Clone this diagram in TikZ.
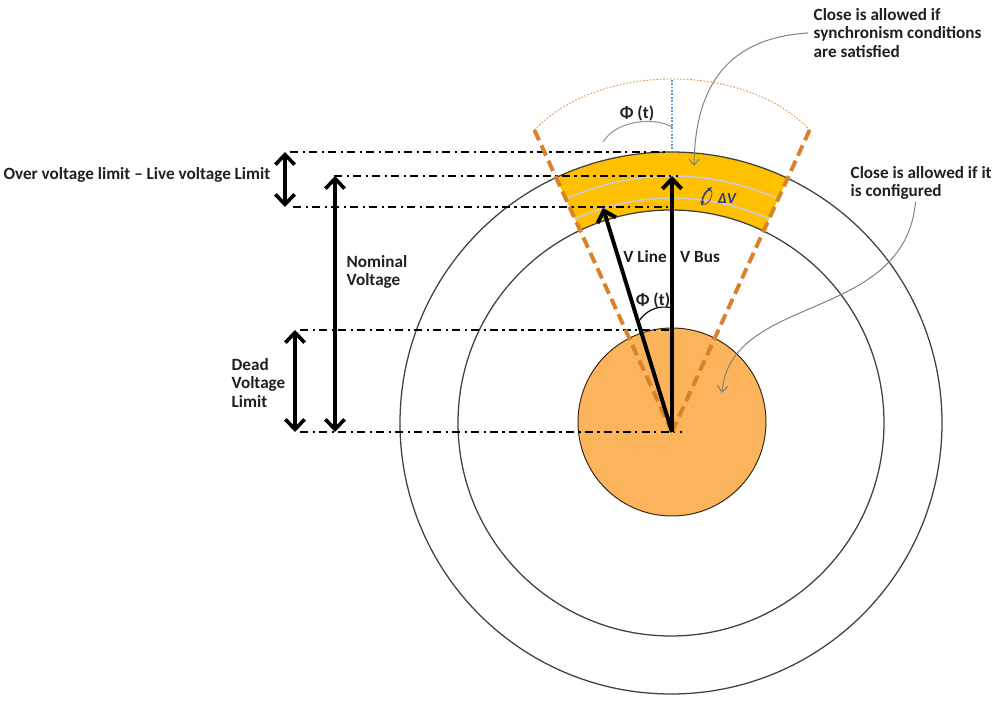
\documentclass[tikz,border=0pt]{standalone}
\usepackage{fontspec}
\setmainfont{Carlito}
\usepackage{tikz}
\usetikzlibrary{positioning,arrows.meta,calc}
\definecolor{ring}{HTML}{404040}
\definecolor{gold}{HTML}{FFC000}
\definecolor{peach}{HTML}{FBB45C}
\definecolor{rust}{HTML}{D9822B}
\definecolor{sky}{HTML}{5B9BD5}
\definecolor{navy}{HTML}{2E3B82}
\definecolor{ink}{HTML}{231F20}
\tikzset{
  txt/.style   ={font=\fontsize{12.2}{13.4}\selectfont\bfseries, text=ink, align=left, inner sep=1pt},
  ringline/.style={draw=ring, line width=0.9pt},
  level/.style ={line width=2pt, dash pattern=on 6pt off 3pt on 1.5pt off 3pt},
  dimarr/.style={{Straight Barb[length=2.5mm,width=4.8mm]}-{Straight Barb[length=2.5mm,width=4.8mm]}, line width=2.6pt},
  vec/.style   ={-{Straight Barb[length=2.5mm,width=4.8mm]}, line width=2.8pt},
  sector/.style={rust, line width=2.8pt, dash pattern=on 8pt off 4pt},
  note/.style  ={-{Straight Barb[length=1.6mm,width=2.6mm]}, gray, line width=0.7pt},
  guide/.style ={gray!80, line width=0.8pt},
  vring/.style ={gray!40, line width=1.2pt},
}
\begin{document}
\begin{tikzpicture}[x=0.025cm, y=0.025cm]
  \useasboundingbox (0,0) rectangle (1000,703);
  \coordinate (O) at (672,271);
  \coordinate (C) at (671,280);

  % allowed band between the two outer rings
  \begin{scope}
    \clip (O) -- +(114.5:420) -- +(65.5:420) -- cycle;
    \fill[gold, even odd rule] (C) circle[radius=271] (C) circle[radius=213];
  \end{scope}
  \draw[ringline] (C) circle[radius=271];
  \draw[ringline] (C) circle[radius=213];
  \draw[draw=black!70!brown, fill=peach, line width=0.7pt] (672,281) circle[radius=94];
  \draw[vring] (O) ++(114.5:234) arc[start angle=114.5, end angle=65.5, radius=234];
  \draw[vring] (O) ++(114.5:256) arc[start angle=114.5, end angle=65.5, radius=256];

  % levels
  \coordinate (ovA) at (290,551); \coordinate (ovB) at (665,551);
  \coordinate (nmA) at (334,527); \coordinate (nmB) at (678,527);
  \coordinate (lvA) at (293,496); \coordinate (lvB) at (668,496);
  \coordinate (ddA) at (300,373); \coordinate (ddB) at (672,373);
  \coordinate (zrA) at (300,271); \coordinate (zrB) at (682,271);
  \draw[level] (ovA) -- (ovB);
  \draw[level] (nmA) -- (nmB);
  \draw[level] (lvA) -- (lvB);
  \draw[level] (ddA) -- (ddB);
  \draw[level] (zrA) -- (zrB);

  % sector limits
  \coordinate (secL) at ($(O)+(114.5:332)$);
  \coordinate (secR) at ($(O)+(65.5:332)$);
  \draw[sector] (O) -- (secL);
  \draw[sector] (O) -- (secR);
  \draw[rust!80, line width=0.7pt, dash pattern=on 1.2pt off 1.2pt] (secL) .. controls (600,641) and (745,641) .. (secR);
  \coordinate (skyT) at (672,623); \coordinate (skyB) at (672,553);
  \draw[sky, line width=0.8pt, dash pattern=on 1.2pt off 1.2pt] (skyT) -- (skyB);

  % dimension arrows
  \coordinate (a1) at (285,551); \coordinate (a2) at (285,496);
  \coordinate (b1) at (335,527); \coordinate (b2) at (335,271);
  \coordinate (c1) at (295,373); \coordinate (c2) at (295,271);
  \draw[dimarr] (a1) -- (a2);
  \draw[dimarr] (b1) -- (b2);
  \draw[dimarr] (c1) -- (c2);

  % vectors
  \coordinate (bus) at (672,527);
  \coordinate (line) at (603,495);
  \draw[vec] (O) -- (bus);
  \draw[vec] (O) -- (line);
  \draw[line width=0.8pt] ($(O)!0.49!(line)$) to[bend left=35] ($(O)!0.485!(bus)$);
  \coordinate (pa) at (603,561); \coordinate (pb) at (672,576);
  \draw[guide] (pa) .. controls (618,585) and (658,585) .. (pb);
  \draw[navy, {Stealth[length=1.3mm]}-{Stealth[length=1.3mm]}, line width=0.7pt] (702,497) to[bend left=25] (712,516);
  \draw[navy, line width=0.5pt] (707,506) ellipse[x radius=4, y radius=8, rotate=-25];

  \node[txt] (vline) at (645,446) {V Line};
  \node[txt] (vbus)  at (700,446) {V Bus};
  \node[txt] (phitop) at (637,590) {Φ (t)};
  \node[txt] (phimid) at (653,403) {Φ (t)};
  \node[font=\fontsize{11}{12}\selectfont\bfseries\itshape, text=navy, inner sep=1pt] (dv) at (727,505) {ΔV};

  \node[txt, anchor=east] (over) at (272,528) {Over voltage limit – Live voltage Limit};
  \node[txt, anchor=west] (nom)  at (345,431) {Nominal\\Voltage};
  \node[txt, anchor=west] (dead) at (230,320) {Dead\\Voltage\\Limit};
  \node[txt, anchor=west] (sync) at (812,670) {Close is allowed if\\synchronism conditions\\are satisfied};
  \node[txt, anchor=west] (conf) at (849,520) {Close is allowed if it\\is configured};

  % notes
  \coordinate (hit1) at (694,537);
  \coordinate (hit2) at (722,310);
  \draw[note] ([xshift=-3pt]sync.west) .. controls (730,665) and (695,620) .. (hit1);
  \draw[note] ([xshift=-4pt]conf.south) .. controls (905,380) and (730,410) .. (hit2);
\end{tikzpicture}
\end{document}
